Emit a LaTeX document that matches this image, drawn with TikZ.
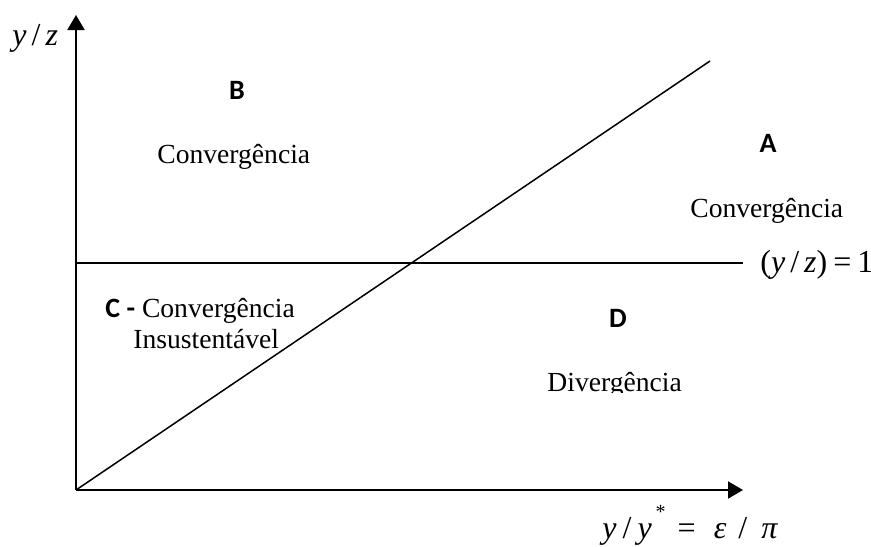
\documentclass[tikz,border=0pt]{standalone}
\usepackage{fontspec}
\setmainfont{Liberation Serif}
\newfontfamily\tagfont{Carlito}
\usetikzlibrary{arrows.meta,positioning}
\tikzset{
  axisline/.style={line width=1pt, -{Triangle[length=7.5pt, width=8.5pt]}},
  borderline/.style={line width=0.75pt},
  region/.style={inner sep=0pt, font=\fontsize{13.8}{16}\selectfont},
  tag/.style={inner sep=0pt, font=\tagfont\bfseries\fontsize{14}{16}\selectfont},
  varlabel/.style={inner sep=0pt, font=\fontsize{16}{18}\selectfont}
}

\begin{document}
\begin{tikzpicture}[x=0.5pt, y=-0.5pt]
  \useasboundingbox (0,0) rectangle (871,546);
  \coordinate (origin) at (76,490);
  \coordinate (ytip) at (76,15);
  \coordinate (xtip) at (743,490);
  \coordinate (unitL) at (76,263);
  \coordinate (unitR) at (743,263);
  \coordinate (diagEnd) at (710,61);

  \draw[axisline] (origin) -- (ytip);
  \draw[axisline] (origin) -- (xtip);
  \draw[borderline] (unitL) -- (unitR);
  \draw[borderline] (origin) -- (diagEnd);

  \node[varlabel, anchor=base west] (ylabel) at (12,45)
    {\textit{y}\hspace{2.5pt}/\hspace{2.5pt}\textit{z}};
  \node[varlabel, anchor=base west] (xlabel) at (602,538)
    {\textit{y}\hspace{3pt}/\hspace{3pt}\textit{y}\raisebox{1.3ex}{\fontsize{10}{11}\selectfont\hspace{2pt}*}\hspace{6pt}=\hspace{9pt}\textit{ε}\hspace{6pt}/\hspace{7pt}\textit{π}};
  \node[varlabel, anchor=base west] (unitlabel) at (760,272)
    {(\textit{y}\hspace{2.5pt}/\hspace{2.5pt}\textit{z})\hspace{3pt}=\hspace{3pt}1};

  \node[tag] (tagB) at (237,90) {B};
  \node[region, anchor=base west] (convB) at (157,163) {Convergência};
  \node[tag] (tagA) at (768,143) {A};
  \node[region, anchor=base west] (convA) at (690,217) {Convergência};
  \node[region, anchor=base west] (convC) at (105,317)
    {{\tagfont\bfseries\fontsize{14}{16}\selectfont C -} Convergência};
  \node[region, anchor=base west] (insC) at (133,348) {Insustentável};
  \node[tag] (tagD) at (618,318) {D};
  \begin{scope}
    \clip (520,340) rectangle (720,392);
    \node[region, anchor=base west] (divD) at (547,391) {Divergência};
  \end{scope}
\end{tikzpicture}
\end{document}
